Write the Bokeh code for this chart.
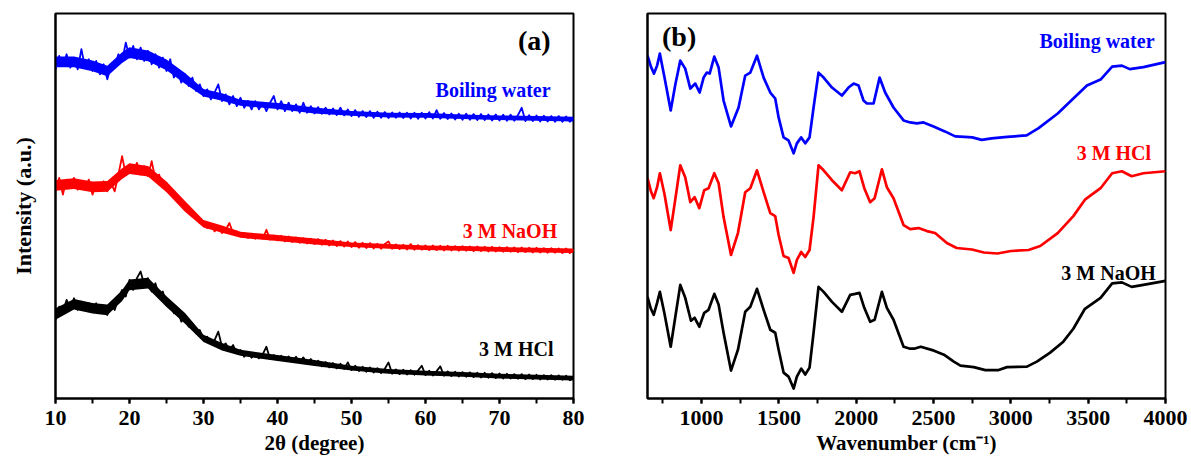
import numpy as np
from bokeh.plotting import figure
from bokeh.layouts import row
from bokeh.models import Label, SingleIntervalTicker, FixedTicker, Range1d
from bokeh.embed import file_html
from bokeh.resources import INLINE

# ---------------- (a) XRD data, 2theta 10..80 every 0.5 deg ----------------
two_theta = np.arange(10.0, 80.01, 0.5)

xrd_boiling = [
    98.5, 102.5, 99.5, 103, 99, 102, 98.5, 104.5, 99, 101.5,
    98, 101, 97, 100, 95.5, 99.5, 99.5, 103, 101, 106.5,
    102, 105.5, 101.5, 105, 101, 104, 100, 103, 99, 102,
    98, 101.5, 96, 98, 94.5, 97, 93.5, 96, 92, 94,
    90.5, 92.5, 89.5, 91.5, 94, 89, 91, 88, 90.5, 87.5,
    90, 87, 89, 86.5, 89, 86.5, 88.5, 86, 88.5, 90.5,
    86.5, 89, 86, 88.5, 86, 88, 85.5, 88.5, 85.5, 87.5,
    85.3, 87.2, 85.2, 87, 85, 86.8, 84.8, 87, 84.7, 86.5,
    84.5, 86.3, 84.3, 86, 84.2, 86, 84, 85.8, 84, 85.7,
    83.9, 85.6, 84, 85.6, 83.9, 85.5, 83.8, 85.5, 83.7, 85.5,
    83.8, 85.7, 83.8, 86.3, 83.7, 85.4, 83.6, 85.3, 83.5, 85.2,
    83.4, 85.2, 83.4, 85.1, 83.3, 85.1, 83.3, 85, 83.2, 85,
    83.2, 84.9, 83.1, 84.9, 83.1, 84.8, 87, 83, 84.8, 83,
    84.7, 82.9, 84.6, 82.9, 84.5, 82.8, 84.5, 82.8, 84.4, 82.8,
    83.8]

xrd_naoh = [
    62, 66, 61, 65.5, 63, 66, 62.5, 65, 63, 65.5,
    61, 64.5, 62.5, 65, 62, 64.5, 62, 67, 72.5, 67,
    70, 67.5, 70.5, 67, 69.5, 66.5, 71, 65.5, 67, 63.5,
    64.5, 61.5, 62, 59, 59.5, 56.5, 57.5, 54.5, 55, 52.5,
    53, 51, 52, 50, 51.5, 49.5, 50.5, 52.5, 49.5, 50,
    48.5, 49.5, 48, 49.3, 47.8, 49, 47.8, 50.5, 47.5, 48.8,
    47.3, 48.7, 47, 48.5, 46.8, 48.2, 46.6, 48, 46.4, 47.8,
    46.2, 47.7, 46, 47.5, 45.8, 47.3, 45.6, 47.1, 45.5, 47,
    45.3, 46.8, 45.1, 46.6, 45, 46.5, 44.9, 46.3, 44.8, 46.2,
    47, 44.8, 46.1, 44.7, 46, 44.6, 46.2, 44.5, 45.9, 44.5,
    45.8, 44.4, 45.8, 44.4, 45.7, 44.3, 45.7, 44.3, 45.6, 44.2,
    45.6, 44.2, 45.5, 44.1, 45.5, 44.1, 45.4, 44, 45.4, 44,
    45.3, 43.9, 45.3, 43.9, 45.2, 43.8, 45.2, 43.8, 45.1, 43.7,
    45.1, 43.7, 45, 43.6, 45, 43.6, 44.9, 43.5, 44.9, 43.5,
    44.5]

xrd_hcl = [
    23.5, 27.5, 26, 29.5, 27, 30, 26.5, 29, 26.5, 28.5,
    26, 28.5, 25.5, 27.5, 25, 28, 26.5, 30, 32.5, 30.5,
    35.5, 32.5, 36, 38, 34, 36, 32, 34.5, 30.5, 32,
    28, 29, 25.5, 26.5, 23, 24.5, 21.5, 22.5, 19.5, 20.5,
    17.5, 18.5, 16.5, 17.5, 20, 15.5, 16.5, 14.5, 16, 13.5,
    14.5, 12.5, 13.8, 12.2, 13.5, 12, 13.2, 15.5, 11.8, 13,
    11.5, 12.8, 11.2, 12.6, 11, 12.5, 10.8, 12.3, 10.5, 11.8,
    10, 11.3, 9.6, 10.9, 9.3, 10.6, 9, 10.4, 8.8, 10.8,
    8.5, 9.8, 8.2, 9.5, 8, 9.3, 7.8, 9.1, 7.6, 8.9,
    10.8, 7.4, 8.7, 7.3, 8.6, 7.2, 8.5, 7.1, 8.4, 9.8,
    7, 8.3, 6.9, 8.2, 9.6, 6.8, 8.1, 6.7, 8, 6.6,
    7.9, 6.5, 7.8, 6.4, 7.7, 6.3, 7.7, 6.2, 7.6, 6.1,
    7.5, 6, 7.4, 6, 7.3, 5.9, 7.3, 5.8, 7.2, 5.8,
    7.1, 5.7, 7, 5.7, 7, 5.6, 6.9, 5.6, 6.8, 5.5,
    6.2]

# dense core of each noisy XRD trace (lower / upper edge of the band)
env_theta = [10, 12.5, 15, 17, 19, 20, 22.5, 25, 27.5, 30, 32.5, 35, 40, 45, 50, 55, 60, 65, 70, 75, 80]
boiling_lo = [99.1, 99.1, 97.9, 96.4, 100.4, 101.9, 100.9, 98.2, 94.2, 90.4, 89.1, 87.6, 86.6, 85.3, 84.6, 84.1, 84, 83.6, 83.3, 83.1, 82.9]
boiling_hi = [102.3, 102.3, 101.1, 99.6, 103.6, 105.1, 104.1, 101.4, 97.4, 92.6, 91.3, 89.4, 88.4, 87.1, 86, 85.5, 85.4, 85, 84.7, 84.5, 84.3]
naoh_lo = [62.2, 62.7, 61.7, 61.9, 65.7, 67.2, 66.4, 61.7, 55.9, 51.2, 49.6, 48.1, 47.1, 46.1, 45.3, 44.8, 44.4, 44.2, 43.9, 43.7, 43.5]
naoh_hi = [65.4, 65.9, 64.9, 65.1, 68.9, 70.4, 69.6, 64.9, 59.1, 53.4, 51.8, 49.9, 48.9, 47.9, 46.7, 46.2, 45.8, 45.6, 45.3, 45.1, 44.9]
hcl_lo = [23.6, 26.6, 25.4, 24.9, 29.2, 32.4, 32.9, 27.4, 22.4, 16.9, 14.4, 12.8, 11.2, 9.7, 8.4, 7.4, 6.9, 6.5, 6, 5.7, 5.4]
hcl_hi = [27, 29.8, 28.6, 28.1, 32.4, 35.6, 36.1, 30.6, 25.6, 19.1, 16.6, 14.6, 13, 11.5, 9.8, 8.8, 8.3, 7.9, 7.4, 7.1, 6.8]

# ---------------- (b) FTIR data ----------------
wn_boiling = [650, 672, 692, 712, 730, 760, 800, 830, 862, 894, 927, 959, 987, 1013, 1034,
              1052, 1082, 1110, 1142, 1190, 1239, 1282, 1315, 1358, 1401, 1444, 1476, 1498,
              1530, 1562, 1595, 1616, 1644, 1670, 1698, 1724, 1756, 1789, 1843, 1907, 1950,
              1983, 2015, 2047, 2069, 2112, 2151, 2187, 2241, 2306, 2349, 2392, 2435, 2500,
              2573, 2640, 2700, 2750, 2812, 2875, 2976, 3102, 3177, 3303, 3404, 3492, 3580,
              3655, 3718, 3769, 3857, 4000]
ir_boiling = [344, 333, 326, 334, 346, 322, 289, 315, 339, 331, 311, 316, 307, 322, 327,
              326, 343, 332, 299, 273, 292, 324, 327, 344, 322, 307, 301, 282,
              262, 259, 246, 256, 262, 256, 262, 292, 327, 322, 312, 304, 312,
              316, 314, 299, 296, 296, 322, 307, 292, 279, 277, 276, 277, 273,
              268, 263, 262.5, 262, 259.5, 261, 262.5, 264, 271, 286, 301, 314, 320,
              333, 334, 330.5, 332.5, 337.5]

wn_hcl = [650, 672, 690, 712, 730, 760, 800, 830, 862, 894, 927, 955, 985, 1017, 1045,
          1082, 1110, 1142, 1190, 1235, 1282, 1315, 1358, 1401, 1444, 1476, 1498, 1530,
          1562, 1595, 1616, 1644, 1670, 1698, 1724, 1756, 1789, 1843, 1907, 1961, 1993,
          2021, 2052, 2090, 2119, 2166, 2198, 2241, 2306, 2349, 2403, 2457, 2510, 2586,
          2649, 2749, 2825, 2913, 3001, 3114, 3190, 3303, 3404, 3479, 3580, 3655, 3718,
          3781, 3857, 4000]
ir_hcl = [221, 208, 201, 212, 226, 205, 169, 200, 234, 222, 197, 202, 191, 209, 211,
          226, 216, 182, 144, 166, 207, 211, 229, 207, 186, 183, 164, 143,
          141, 126, 139, 147, 142, 149, 182, 234, 229, 219, 209, 227, 226,
          228, 211, 197, 201, 230, 212, 201, 174, 170, 171, 168, 166, 156,
          151, 149.5, 146.5, 145.5, 148, 149, 153, 166, 183, 199.5, 211, 226, 228,
          223, 226, 228]

wn_naoh = [650, 672, 690, 712, 730, 760, 800, 830, 862, 894, 931, 955, 985, 1017, 1045,
           1082, 1110, 1142, 1190, 1235, 1282, 1315, 1358, 1401, 1444, 1476, 1498, 1530,
           1562, 1595, 1616, 1644, 1670, 1698, 1724, 1756, 1789, 1843, 1907, 1961, 1993,
           2021, 2052, 2090, 2119, 2166, 2198, 2241, 2306, 2349, 2374, 2417, 2503, 2567,
           2631, 2674, 2760, 2835, 2921, 2975, 3104, 3168, 3254, 3339, 3404, 3479, 3580,
           3655, 3718, 3781, 3857, 4000]
ir_naoh = [102, 90, 84, 96, 107, 85, 52, 82, 114, 101, 78, 81, 72, 86, 89,
           105, 94, 66, 28, 49, 87, 92, 110, 89, 69, 66, 49, 26,
           22, 10, 22, 30, 24, 31, 66, 112, 107, 97, 87, 104, 105,
           106, 91, 77, 79, 107, 91, 79, 52, 50, 50, 52, 48, 44,
           37, 33, 31.5, 28.5, 28.5, 31.5, 32, 37, 46, 57, 70, 90, 101,
           115.5, 116.5, 112, 114, 118]

FONT = "Liberation Serif"


def style(p):
    p.outline_line_color = "black"
    p.outline_line_width = 2
    p.outline_line_alpha = 1
    p.xgrid.visible = False
    p.ygrid.visible = False
    p.background_fill_color = "white"
    p.border_fill_color = "white"
    ax = p.xaxis[0]
    ax.axis_line_width = 2
    ax.major_tick_line_width = 2
    ax.minor_tick_line_width = 2
    ax.major_tick_in = 0
    ax.minor_tick_in = 0
    ax.major_tick_out = 5
    ax.minor_tick_out = 5
    ax.major_label_text_font = FONT
    ax.major_label_text_font_style = "bold"
    ax.major_label_text_font_size = "22px"
    ax.major_label_text_color = "black"
    ax.major_label_standoff = 7
    ax.axis_label_text_font = FONT
    ax.axis_label_text_font_style = "bold"
    ax.axis_label_text_font_size = "21px"
    ax.axis_label_text_color = "black"
    ax.axis_label_standoff = 3
    ay = p.yaxis[0]
    ay.ticker = FixedTicker(ticks=[])
    ay.axis_line_width = 2
    ay.major_tick_line_color = None
    ay.minor_tick_line_color = None
    ay.major_label_text_font_size = "0px"


def lab(p, x, y, text, color, align="right", size="20px"):
    p.add_layout(Label(x=x, y=y, text=text, text_color=color, text_font=FONT,
                       text_font_style="bold", text_font_size=size,
                       text_align=align, text_baseline="middle"))


p1 = figure(frame_width=518, frame_height=385, x_range=Range1d(10, 80), y_range=Range1d(0, 115.2),
            output_backend="svg", toolbar_location=None,
            min_border_left=55, min_border_right=27, min_border_top=13, min_border_bottom=67,
            x_axis_label="2θ (degree)", y_axis_label="Intensity (a.u.)")
style(p1)
p1.xaxis[0].ticker = SingleIntervalTicker(interval=10, num_minor_ticks=2)
p1.yaxis[0].axis_label_text_font = FONT
p1.yaxis[0].axis_label_text_font_style = "bold"
p1.yaxis[0].axis_label_text_font_size = "22px"
p1.yaxis[0].axis_label_text_color = "black"
p1.yaxis[0].axis_label_standoff = 20

for lo, hi, ys, col in [(boiling_lo, boiling_hi, xrd_boiling, "#0000FF"),
                        (naoh_lo, naoh_hi, xrd_naoh, "#FF0000"),
                        (hcl_lo, hcl_hi, xrd_hcl, "black")]:
    p1.varea(x=env_theta, y1=lo, y2=hi, fill_color=col)
    p1.line(two_theta, ys, line_color=col, line_width=1.8, line_join="round")

lab(p1, 76.9, 92.2, "Boiling water", "#0000FF")
lab(p1, 77.8, 50.2, "3 M NaOH", "#FF0000")
lab(p1, 77.3, 14.7, "3 M HCl", "black")
lab(p1, 76.9, 107.2, "(a)", "black", size="28px")

p2 = figure(frame_width=518, frame_height=385, x_range=Range1d(650, 4000), y_range=Range1d(0, 386.3),
            output_backend="svg", toolbar_location=None,
            min_border_left=47, min_border_right=26, min_border_top=13, min_border_bottom=67,
            x_axis_label="Wavenumber (cm⁻¹)")
style(p2)
p2.xaxis[0].ticker = SingleIntervalTicker(interval=500, num_minor_ticks=2)

p2.line(wn_boiling, ir_boiling, line_color="#0000FF", line_width=2.7, line_join="round")
p2.line(wn_hcl, ir_hcl, line_color="#FF0000", line_width=2.7, line_join="round")
p2.line(wn_naoh, ir_naoh, line_color="black", line_width=2.7, line_join="round")
lab(p2, 3929, 359, "Boiling water", "#0000FF")
lab(p2, 3907, 246, "3 M HCl", "#FF0000")
lab(p2, 3937, 125.7, "3 M NaOH", "black")
lab(p2, 744, 363, "(b)", "black", align="left", size="28px")

layout = row(p1, p2)
open("out.html", "w").write(file_html(layout, INLINE))
